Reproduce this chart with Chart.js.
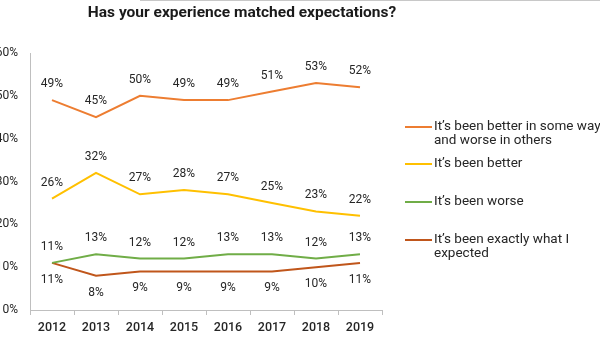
<!DOCTYPE html>
<html>
<head>
<meta charset="utf-8">
<script src="https://cdn.jsdelivr.net/npm/chart.js@4.4.1/dist/chart.umd.min.js"></script>
<style>
  html, body { margin: 0; padding: 0; background: #fff; }
  #wrap { position: relative; width: 600px; height: 350px; overflow: hidden; }
  canvas { position: absolute; left: 0; top: 0; }
</style>
</head>
<body>
<div id="wrap"><canvas id="c" width="600" height="350"></canvas></div>
<script>
const titleText = "Has your experience matched expectations?";
const years = ["2012", "2013", "2014", "2015", "2016", "2017", "2018", "2019"];
const seriesNames = [
  ["It\u2019s been better in some ways", "and worse in others"],
  ["It\u2019s been better"],
  ["It\u2019s been worse"],
  ["It\u2019s been exactly what I", "expected"]
];
const betterAndWorse = [49, 45, 50, 49, 49, 51, 53, 52];
const better = [26, 32, 27, 28, 27, 25, 23, 22];
const worse = [11, 13, 12, 12, 13, 13, 12, 13];
const asExpected = [11, 8, 9, 9, 9, 9, 10, 11];
const yTicks = [0, 10, 20, 30, 40, 50, 60];

const colors = ["#ED7D31", "#FFC000", "#70AD47", "#C0561B"];
const seriesValues = [betterAndWorse, better, worse, asExpected];
const labelBelow = [false, false, false, true];

const datasets = seriesValues.map((vals, i) => ({
  label: seriesNames[i].join(" "),
  data: vals,
  borderColor: colors[i],
  backgroundColor: colors[i],
  borderWidth: 2,
  pointRadius: 0,
  tension: 0,
  fill: false
}));

const AXIS = "#BFBFBF";
const TEXT = "#262626";

const extras = {
  id: "extras",
  afterDatasetsDraw(chart) {
    const ctx = chart.ctx;
    ctx.save();
    // data labels
    ctx.font = "12px Roboto";
    ctx.fillStyle = TEXT;
    ctx.textAlign = "center";
    ctx.textBaseline = "middle";
    chart.data.datasets.forEach((ds, i) => {
      const meta = chart.getDatasetMeta(i);
      meta.data.forEach((pt, j) => {
        const dy = labelBelow[i] ? 17 : -16;
        ctx.fillText(ds.data[j] + "%", pt.x, pt.y + dy);
      });
    });
    // title
    ctx.font = "bold 15.5px Roboto";
    ctx.fillStyle = "#1A1A1A";
    ctx.textAlign = "center";
    ctx.textBaseline = "alphabetic";
    ctx.fillText(titleText, chart.chartArea.left + 212, 17);
    // legend
    const lx = chart.chartArea.right + 23;
    const ys = [127, 164, 202, 240];
    ctx.font = "13.5px Roboto";
    ctx.textAlign = "left";
    ctx.textBaseline = "middle";
    seriesNames.forEach((lines, i) => {
      ctx.strokeStyle = colors[i];
      ctx.lineWidth = 2;
      ctx.beginPath();
      ctx.moveTo(lx, ys[i]);
      ctx.lineTo(lx + 27, ys[i]);
      ctx.stroke();
      ctx.fillStyle = TEXT;
      lines.forEach((t, k) => ctx.fillText(t, lx + 29, ys[i] + k * 14));
    });
    // thin frame line at top
    ctx.strokeStyle = "#C8C8C8";
    ctx.lineWidth = 1;
    ctx.beginPath();
    ctx.moveTo(140, 0.5);
    ctx.lineTo(600, 0.5);
    ctx.stroke();
    ctx.restore();
  }
};

new Chart(document.getElementById("c"), {
  type: "line",
  data: { labels: years, datasets },
  options: {
    responsive: false,
    animation: false,
    layout: { padding: { top: 53, right: 218, left: 0, bottom: 0 } },
    plugins: { legend: { display: false }, title: { display: false }, tooltip: { enabled: false } },
    scales: {
      x: {
        offset: true,
        grid: { display: true, drawOnChartArea: false, drawTicks: true, tickLength: 5, offset: true, color: AXIS },
        border: { display: true, color: AXIS, width: 1 },
        ticks: { color: TEXT, font: { family: "Roboto", size: 12.5, weight: "500" }, padding: 5 },
        afterFit(s) { s.height = 40; }
      },
      y: {
        min: 0, max: 60,
        afterBuildTicks(s) { s.ticks = yTicks.map(v => ({ value: v })); },
        grid: { display: false, drawTicks: false },
        border: { display: true, color: AXIS, width: 1 },
        ticks: { color: TEXT, font: { family: "Roboto", size: 12 }, padding: 12, callback: v => v + "%" },
        afterFit(s) { s.width = 30; }
      }
    }
  },
  plugins: [extras]
});
</script>
</body>
</html>
